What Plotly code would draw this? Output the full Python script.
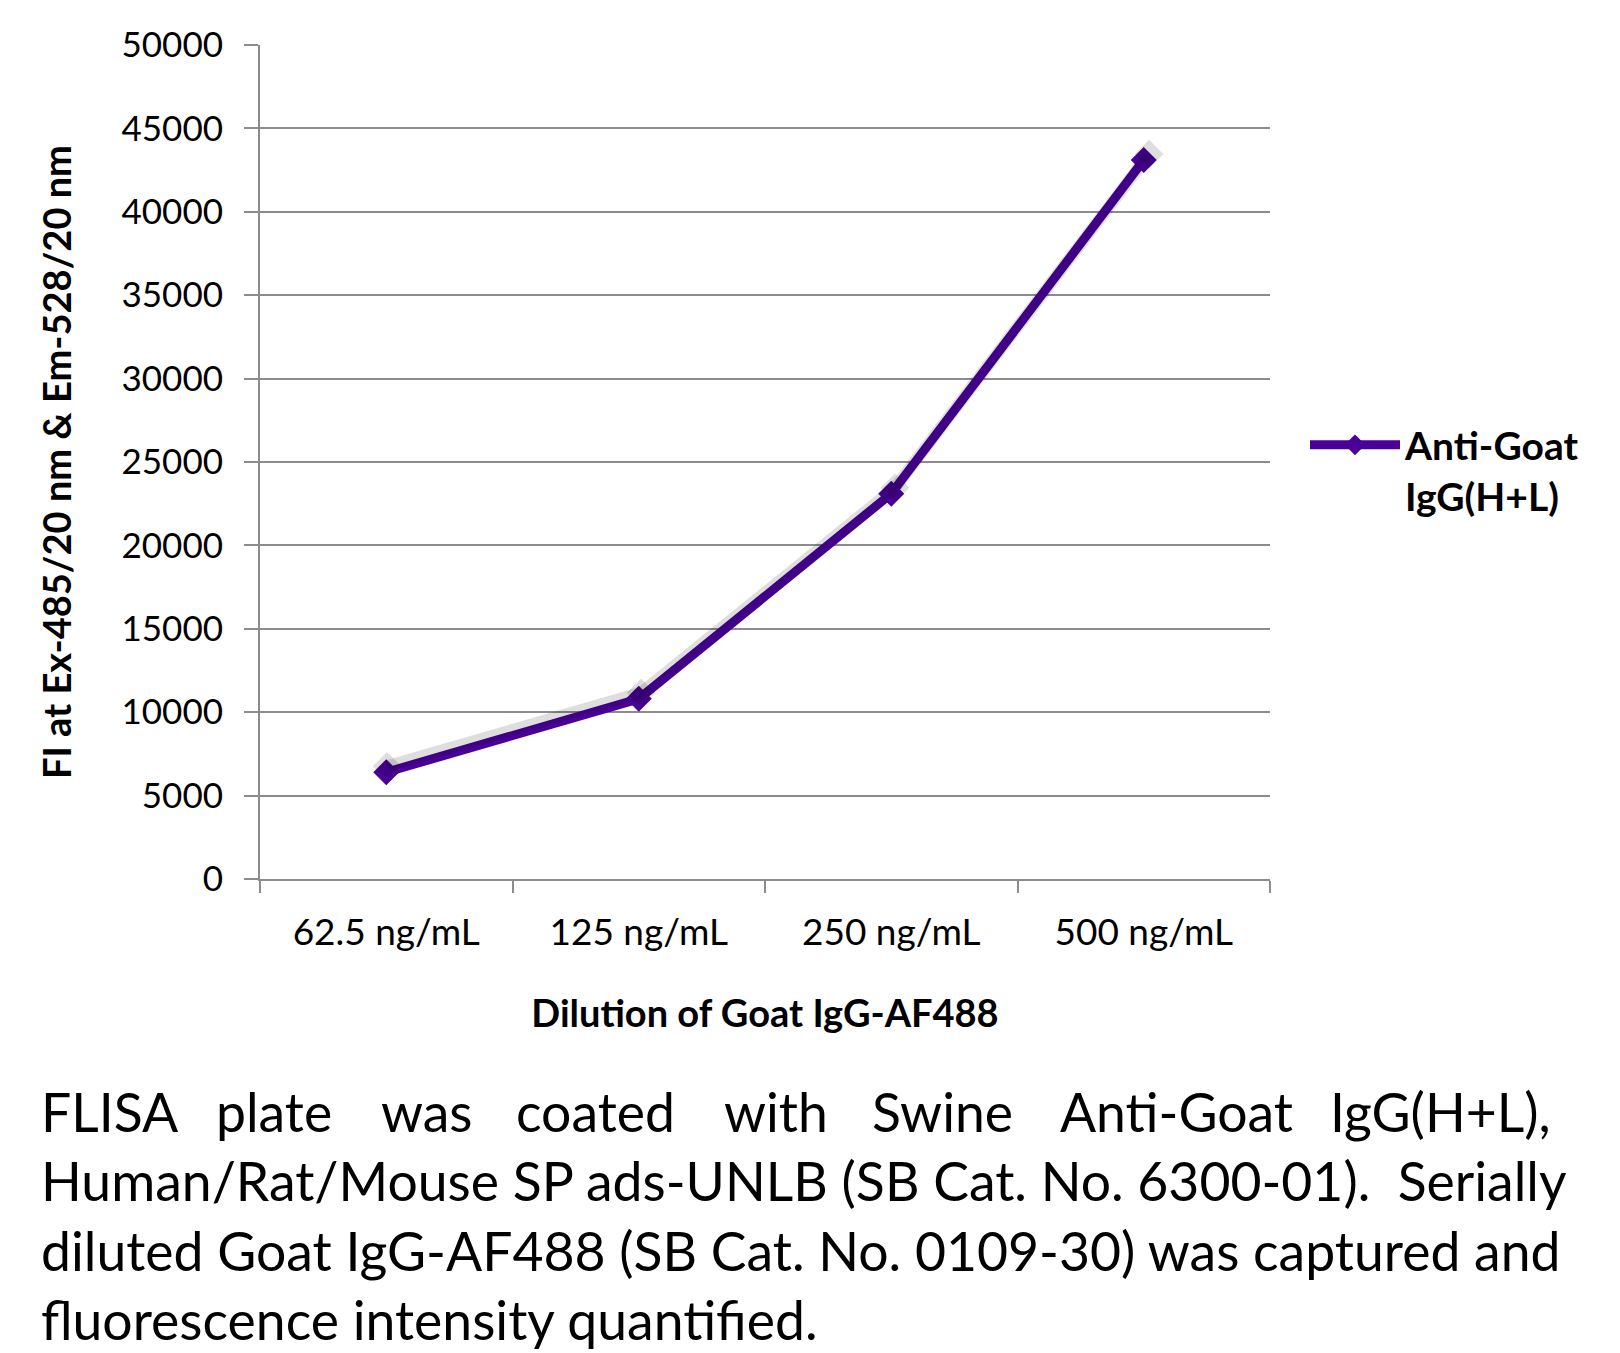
import plotly.graph_objects as go

categories = ["62.5 ng/mL", "125 ng/mL", "250 ng/mL", "500 ng/mL"]
values = [6400, 10800, 23100, 43100]
series_name = "Anti-Goat<br>IgG(H+L)"
y_ticks = [0, 5000, 10000, 15000, 20000, 25000, 30000, 35000, 40000, 45000, 50000]
y_title = "FI at Ex-485/20 nm & Em-528/20 nm"
x_title = "Dilution of Goat IgG-AF488"
caption_line1 = ["FLISA", "plate", "was", "coated", "with", "Swine", "Anti-Goat", "IgG(H+L),"]
caption_rest = [
    "Human/Rat/Mouse SP ads-UNLB (SB Cat. No. 6300-01).  Serially",
    "diluted Goat IgG-AF488 (SB Cat. No. 0109-30) was captured and",
    "fluorescence intensity quantified.",
]

W, H = 1620, 1353
L, R, T, B = 260, 350, 45, 474
PW = W - L - R
PH = H - T - B
FONT = "Lato, 'Open Sans', sans-serif"
COLOR = "#4a0099"
GRID = "#8c8c8c"
SH = 6  # shadow offset in px

def px_x(p):
    return (p - L) / PW

def px_y(p):
    return 1 - (p - T) / PH

fig = go.Figure()

# soft shadow beneath the series (secondary axes shifted a few pixels)
fig.add_trace(go.Scatter(
    x=categories, y=values, mode="lines+markers", xaxis="x2", yaxis="y2",
    line=dict(color="rgba(0,0,0,0.13)", width=12),
    marker=dict(symbol="diamond", size=22, color="rgba(0,0,0,0.13)"),
    showlegend=False, hoverinfo="skip",
))

fig.add_trace(go.Scatter(
    x=categories, y=values, mode="lines+markers", name=series_name,
    line=dict(color=COLOR, width=9),
    marker=dict(symbol="diamond", size=20, color=COLOR),
))

fig.update_layout(
    width=W, height=H,
    margin=dict(l=L, r=R, t=T, b=B, pad=0),
    paper_bgcolor="white", plot_bgcolor="white",
    font=dict(family=FONT, size=34, color="black"),
    showlegend=True,
    legend=dict(
        x=px_x(1305), y=px_y(413), xanchor="left", yanchor="top", valign="top",
        font=dict(family=FONT, size=39, color="black", weight="bold"),
        itemwidth=90, itemsizing="trace", tracegroupgap=0,
        bgcolor="rgba(0,0,0,0)",
    ),
    xaxis=dict(
        type="category", range=[-0.5, 3.5], domain=[0, 1],
        tickson="boundaries", ticks="outside", ticklen=12, tickwidth=2, tickcolor=GRID,
        showline=True, linecolor=GRID, linewidth=2,
        showgrid=False, zeroline=False, ticklabelstandoff=20,
        tickfont=dict(family=FONT, size=37, color="black"),
        title=dict(text="<b>" + x_title + "</b>", font=dict(family=FONT, size=38, color="black"), standoff=48),
    ),
    yaxis=dict(
        range=[0, 50000], tickvals=y_ticks, ticktext=[str(v) for v in y_ticks],
        ticks="outside", ticklen=14, tickwidth=2, tickcolor=GRID,
        showline=True, linecolor=GRID, linewidth=2,
        showgrid=True, gridcolor=GRID, gridwidth=2, zeroline=False,
        ticklabelstandoff=14,
        tickfont=dict(family=FONT, size=35, color="black"),
        title=dict(text="<b>" + y_title + "</b>", font=dict(family=FONT, size=38, color="black"), standoff=38),
        domain=[0, 1],
    ),
    xaxis2=dict(type="category", domain=[SH / PW, 1], range=[-0.5, 3.5 - 4 * SH / PW],
                overlaying="x", visible=False, anchor="y2"),
    yaxis2=dict(range=[-50000 * SH / PH, 50000 * (1 - SH / PH)], domain=[0, 1],
                visible=False, anchor="x2", overlaying="y"),
)

# caption (justified first line)
word_left_px = [39, 214, 379, 514, 722, 870, 1058, 1328]
line_y_px = [1111, 1180, 1250, 1319]
CAP = 53.5
annotations = []
for word, xp in zip(caption_line1, word_left_px):
    annotations.append(dict(
        text=word, x=px_x(xp), y=px_y(line_y_px[0]), xref="paper", yref="paper",
        xanchor="left", yanchor="middle", showarrow=False,
        font=dict(family=FONT, size=CAP, color="black"),
    ))
for line, yp in zip(caption_rest, line_y_px[1:]):
    annotations.append(dict(
        text=line, x=px_x(39), y=px_y(yp), xref="paper", yref="paper",
        xanchor="left", yanchor="middle", showarrow=False,
        font=dict(family=FONT, size=CAP, color="black"),
    ))
fig.update_layout(annotations=annotations)

fig.write_html("out.html")
